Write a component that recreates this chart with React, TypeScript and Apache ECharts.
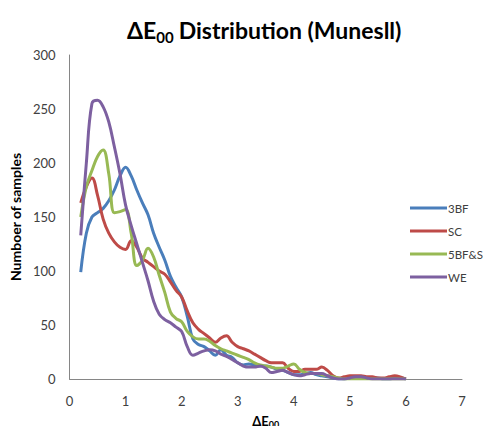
import React, { useEffect, useRef } from "react";
import * as echarts from "echarts";

const xs = [0.2,0.3,0.4,0.5,0.6,0.7,0.8,0.9,1.0,1.1,1.2,1.3,1.4,1.5,1.6,1.7,1.8,1.9,2.0,2.1,2.2,2.3,2.4,2.5,2.6,2.7,2.8,2.9,3.0,3.1,3.2,3.3,3.4,3.5,3.6,3.7,3.8,3.9,4.0,4.1,4.2,4.3,4.4,4.5,4.6,4.7,4.8,4.9,5.0,5.1,5.2,5.3,5.4,5.5,5.6,5.7,5.8,5.9,6.0];

const bf3 = [99,135,150,154,158,165,175,188,196,188,
  175,163,152,135,122,110,95,85,76,58,
  37,32,30,26,22,27,22,20,15,13,
  14,13,12,12,11,9,8,6,4,4,
  5,6,4,3,2,1,0,0,1,2,
  2,1,1,1,0,0,1,1,0];

const sc = [163,178,186,170,148,135,127,122,120,128,
  122,112,108,104,100,97,90,82,76,63,
  52,46,42,38,34,38,40,34,30,28,
  26,23,20,17,15,15,15,10,7,7,
  9,9,9,11,8,3,1,2,3,3,
  3,2,2,1,1,2,3,2,0];

const bfsc = [150,178,193,206,212,190,154,155,157,135,
  105,110,121,113,96,80,62,56,53,44,
  39,37,37,35,31,28,26,24,22,20,
  18,15,13,12,11,10,10,12,14,9,
  6,5,5,4,3,2,1,0,0,0,
  0,0,0,0,0,0,0,0,0];

const we = [133,200,255,258,252,238,215,190,161,142,
  125,108,91,72,60,55,52,48,44,30,
  22,24,26,27,26,23,21,18,15,12,
  11,11,12,10,6,7,8,6,4,3,
  4,5,5,5,3,1,0,0,1,2,
  2,1,0,0,0,0,0,0,0];

const seriesNames = ["3BF", "SC", "5BF&SC", "WE"];
const seriesValues = [bf3, sc, bfsc, we];
const colors = ["#4A7EBB", "#BE4B48", "#98B954", "#7D60A0"];

const FONT = "Lato, 'Open Sans', sans-serif";

export default function App() {
  const ref = useRef<HTMLDivElement>(null);
  useEffect(() => {
    if (!ref.current) return;
    const chart = echarts.init(ref.current, null, { renderer: "svg" });
    chart.setOption({
      animation: false,
      backgroundColor: "#fff",
      title: {
        text: "{a|ΔE}{s|00}{a|Distribution (Munesll)}",
        left: 122,
        top: 10,
        textStyle: {
          rich: {
            a: { fontSize: 23, fontWeight: "bold", fontFamily: FONT, color: "#000" },
            s: { fontSize: 15, fontWeight: "bold", fontFamily: FONT, color: "#000", verticalAlign: "bottom", padding: [14, 5, 0, 0] },
          },
        },
      },
      legend: {
        orient: "vertical",
        left: 410,
        top: 202,
        padding: 0,
        itemWidth: 37,
        itemHeight: 3,
        itemGap: 11,
        icon: "rect",
        textStyle: { fontFamily: FONT, fontSize: 11.5, color: "#404040", padding: [0, 0, 0, -4] },
        data: seriesNames,
      },
      grid: { left: 62, right: 29, top: 55, bottom: 47, containLabel: false },
      xAxis: {
        type: "value",
        min: 0,
        max: 7,
        interval: 1,
        name: "{a|ΔE}{s|00}",
        nameLocation: "middle",
        nameGap: 34,
        nameTextStyle: {
          rich: {
            a: { fontSize: 13, fontWeight: "bold", fontFamily: FONT, color: "#000" },
            s: { fontSize: 9, fontWeight: "bold", fontFamily: FONT, color: "#000", verticalAlign: "bottom", padding: [7, 0, 0, 0] },
          },
        },
        axisLine: { show: true, lineStyle: { color: "#868686", width: 1 } },
        axisTick: { show: false },
        splitLine: { show: false },
        axisLabel: { fontFamily: FONT, fontSize: 13, color: "#404040", margin: 15 },
      },
      yAxis: {
        type: "value",
        min: 0,
        max: 300,
        interval: 50,
        name: "Numboer of samples",
        nameLocation: "middle",
        nameGap: 41,
        nameTextStyle: { fontFamily: FONT, fontSize: 14, fontWeight: "bold", color: "#000" },
        axisLine: { show: true, lineStyle: { color: "#868686", width: 1 } },
        axisTick: { show: false },
        splitLine: { show: false },
        axisLabel: { fontFamily: FONT, fontSize: 13, color: "#404040", margin: 14 },
      },
      series: seriesNames.map((name, i) => ({
        name,
        type: "line",
        smooth: 0.4,
        showSymbol: false,
        symbol: "none",
        lineStyle: { width: 3, color: colors[i] },
        itemStyle: { color: colors[i] },
        data: xs.map((x, j) => [x, seriesValues[i][j]]),
      })),
    });
    return () => chart.dispose();
  }, []);
  return <div ref={ref} style={{ width: 491, height: 434, margin: -8 }} />;
}
